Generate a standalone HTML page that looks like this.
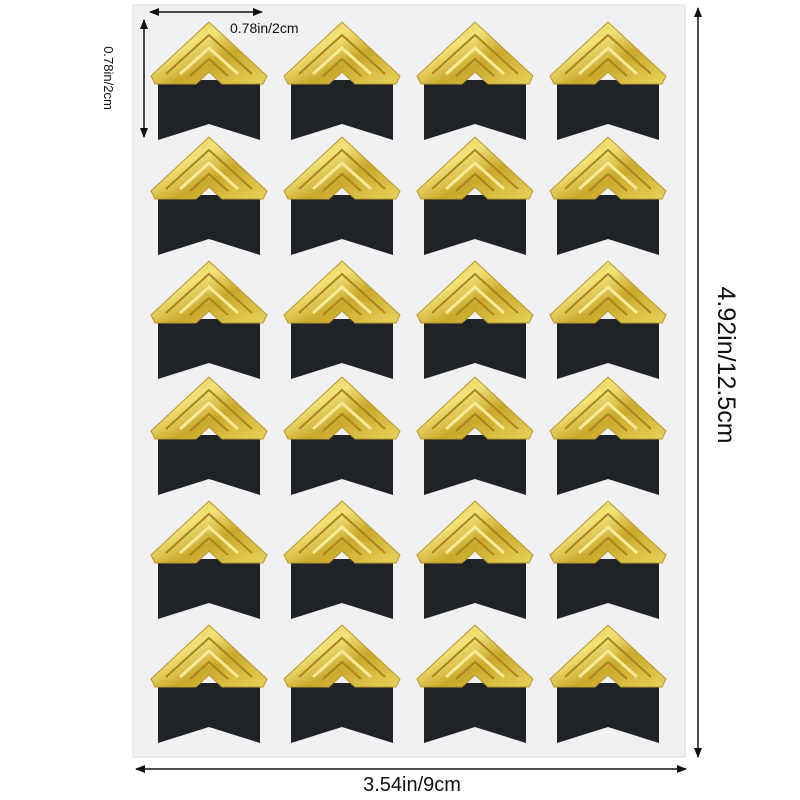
<!DOCTYPE html>
<html><head><style>
html,body{margin:0;padding:0;background:#fff;}
svg{display:block;}
text{font-family:"Liberation Sans",sans-serif;fill:#111;}
</style></head><body>
<svg width="800" height="800" viewBox="0 0 800 800" xmlns="http://www.w3.org/2000/svg">
<defs>
<linearGradient id="g" x1="0" y1="0" x2="1" y2="1">
<stop offset="0" stop-color="#d9c23a"/>
<stop offset="0.35" stop-color="#f3e27a"/>
<stop offset="0.6" stop-color="#c9a82a"/>
<stop offset="1" stop-color="#e8d45c"/>
</linearGradient>
<marker id="ah" markerWidth="10" markerHeight="8" refX="9" refY="4" orient="auto-start-reverse" markerUnits="userSpaceOnUse">
<path d="M0,0 L10,4 L0,8 Z" fill="#111"/>
</marker>
<g id="s">
<path d="M8,58 L110,58 L110,118 L59,102 L8,118 Z" fill="#1f2226"/>
<path d="M1,54 L59,0 L117,54 L113,62 L72,62 L59,50 L46,62 L5,62 Z" fill="url(#g)" stroke="#b8962a" stroke-width="1"/>
<path d="M16,52 L59,13 L102,52" fill="none" stroke="#a8861e" stroke-width="2"/>
<path d="M30,52 L59,26 L88,52" fill="none" stroke="#f7ea9a" stroke-width="3"/>
<path d="M40,54 L59,37 L78,54" fill="none" stroke="#a8861e" stroke-width="2"/>
</g>
</defs>
<rect x="133" y="5" width="552" height="752" fill="#f1f1f3" stroke="#dcdcde"/>
<g>
<use href="#s" x="150" y="22"/><use href="#s" x="283" y="22"/><use href="#s" x="416" y="22"/><use href="#s" x="549" y="22"/>
<use href="#s" x="150" y="137"/><use href="#s" x="283" y="137"/><use href="#s" x="416" y="137"/><use href="#s" x="549" y="137"/>
<use href="#s" x="150" y="261"/><use href="#s" x="283" y="261"/><use href="#s" x="416" y="261"/><use href="#s" x="549" y="261"/>
<use href="#s" x="150" y="377"/><use href="#s" x="283" y="377"/><use href="#s" x="416" y="377"/><use href="#s" x="549" y="377"/>
<use href="#s" x="150" y="501"/><use href="#s" x="283" y="501"/><use href="#s" x="416" y="501"/><use href="#s" x="549" y="501"/>
<use href="#s" x="150" y="625"/><use href="#s" x="283" y="625"/><use href="#s" x="416" y="625"/><use href="#s" x="549" y="625"/>
</g>
<line x1="150" y1="12" x2="262" y2="12" stroke="#111" stroke-width="1.5" marker-end="url(#ah)" marker-start="url(#ah)"/>
<line x1="144" y1="20" x2="144" y2="137" stroke="#111" stroke-width="1.5" marker-end="url(#ah)" marker-start="url(#ah)"/>
<line x1="698" y1="8" x2="698" y2="757" stroke="#111" stroke-width="1.5" marker-end="url(#ah)" marker-start="url(#ah)"/>
<line x1="136" y1="769" x2="686" y2="769" stroke="#111" stroke-width="1.5" marker-end="url(#ah)" marker-start="url(#ah)"/>
<text x="230" y="33" font-size="14">0.78in/2cm</text>
<text transform="translate(104,78) rotate(90)" font-size="13" text-anchor="middle">0.78in/2cm</text>
<text transform="translate(718,365) rotate(90)" font-size="25" text-anchor="middle">4.92in/12.5cm</text>
<text x="412" y="791" font-size="20" text-anchor="middle">3.54in/9cm</text>
</svg>
</body></html>
